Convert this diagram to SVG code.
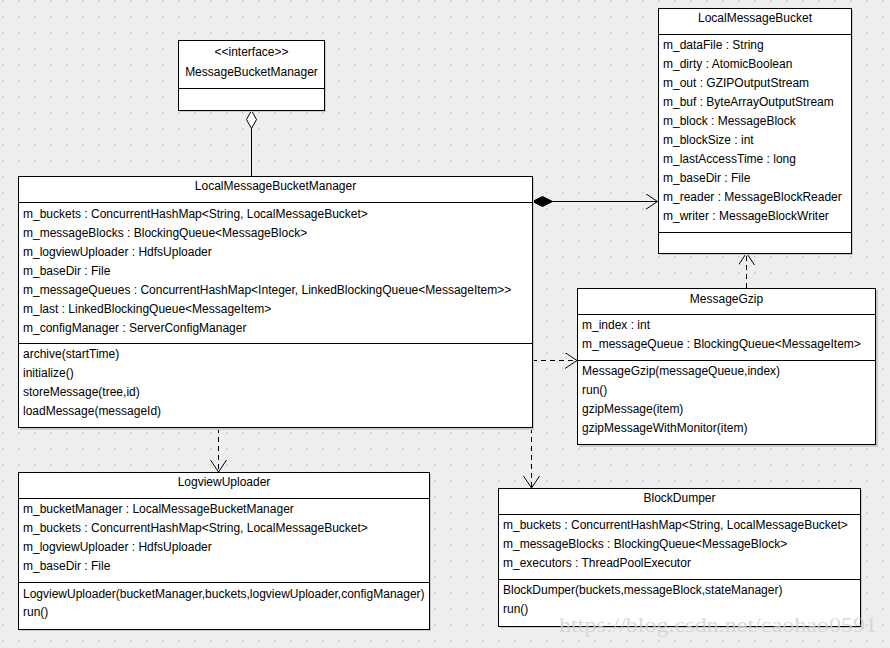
<svg xmlns="http://www.w3.org/2000/svg" width="890" height="648" viewBox="0 0 890 648">
<defs>
<pattern id="grid" width="16" height="16" patternUnits="userSpaceOnUse">
<rect x="2" y="0" width="1.6" height="1.6" fill="#cdcdcd"/>
</pattern>
<marker id="open" markerWidth="14" markerHeight="18" refX="12" refY="8" orient="auto" markerUnits="userSpaceOnUse">
<path d="M0,0 L12,8 L0,16" fill="none" stroke="#000" stroke-width="1"/>
</marker>
</defs>
<style>
.box{fill:#fff;stroke:#000;stroke-width:1;shape-rendering:crispEdges}
.shadow{fill:#cacaca;shape-rendering:crispEdges}
.div{stroke:#000;stroke-width:1;shape-rendering:crispEdges}
text{font-family:"Liberation Sans",Arial,sans-serif;font-size:12px;fill:#000}
.t{text-anchor:middle}
.line{stroke:#000;stroke-width:1;fill:none;shape-rendering:crispEdges}
.dash{stroke:#000;stroke-width:1;fill:none;stroke-dasharray:5,4;shape-rendering:crispEdges}
.wm{font-family:"Liberation Serif","Times New Roman",serif;font-size:20px;fill:#d2d2d2;opacity:0.8}
</style>
<rect x="0" y="0" width="890" height="648" fill="#eeeeee"/>
<rect x="0" y="0" width="890" height="648" fill="url(#grid)"/>

<g id="connectors">
<line class="line" x1="251.5" y1="128" x2="251.5" y2="176"/>
<path d="M251.5,110.5 L256.5,119.5 L251.5,128.5 L246.5,119.5 Z" fill="#fff" stroke="#000" stroke-width="1"/>
<line class="line" x1="552" y1="201.5" x2="657.5" y2="201.5" marker-end="url(#open)"/>
<path d="M532.5,201.5 L542.5,196.5 L552.5,201.5 L542.5,206.5 Z" fill="#000" stroke="#000" stroke-width="1"/>
<line class="dash" x1="532" y1="360.5" x2="577" y2="360.5" marker-end="url(#open)"/>
<line class="dash" x1="746.5" y1="288" x2="746.5" y2="253" marker-end="url(#open)"/>
<line class="dash" x1="218.5" y1="428" x2="218.5" y2="472" marker-end="url(#open)"/>
<line class="dash" x1="531.5" y1="428" x2="531.5" y2="488" marker-end="url(#open)"/>
</g>

<g id="MessageBucketManager">
<rect class="shadow" x="180" y="42" width="146" height="70"/>
<rect class="box" x="178.5" y="40.5" width="146" height="70"/>
<line class="div" x1="178.5" y1="88.5" x2="324.5" y2="88.5"/>
<text class="t" x="251.5" y="55.5">&lt;&lt;interface&gt;&gt;</text>
<text class="t" x="251.5" y="76">MessageBucketManager</text>
</g>

<g id="LocalMessageBucketManager">
<rect class="shadow" x="20" y="178" width="514" height="252"/>
<rect class="box" x="18.5" y="176.5" width="514" height="251"/>
<line class="div" x1="18.5" y1="202.5" x2="532.5" y2="202.5"/>
<line class="div" x1="18.5" y1="343.5" x2="532.5" y2="343.5"/>
<text class="t" x="275.5" y="190">LocalMessageBucketManager</text>
<text x="23" y="217.5">m_buckets : ConcurrentHashMap&lt;String, LocalMessageBucket&gt;</text>
<text x="23" y="236.5">m_messageBlocks : BlockingQueue&lt;MessageBlock&gt;</text>
<text x="23" y="255.5">m_logviewUploader : HdfsUploader</text>
<text x="23" y="274.5">m_baseDir : File</text>
<text x="23" y="293.5">m_messageQueues : ConcurrentHashMap&lt;Integer, LinkedBlockingQueue&lt;MessageItem&gt;&gt;</text>
<text x="23" y="312.5">m_last : LinkedBlockingQueue&lt;MessageItem&gt;</text>
<text x="23" y="331.5">m_configManager : ServerConfigManager</text>
<text x="23" y="357.5">archive(startTime)</text>
<text x="23" y="376.5">initialize()</text>
<text x="23" y="395.5">storeMessage(tree,id)</text>
<text x="23" y="414.5">loadMessage(messageId)</text>
</g>

<g id="LocalMessageBucket">
<rect class="shadow" x="660" y="10" width="193" height="245"/>
<rect class="box" x="658.5" y="8.5" width="193" height="245"/>
<line class="div" x1="658.5" y1="34.5" x2="851.5" y2="34.5"/>
<line class="div" x1="658.5" y1="232.5" x2="851.5" y2="232.5"/>
<text class="t" x="755" y="21.5">LocalMessageBucket</text>
<text x="663" y="48.5">m_dataFile : String</text>
<text x="663" y="67.5">m_dirty : AtomicBoolean</text>
<text x="663" y="86.5">m_out : GZIPOutputStream</text>
<text x="663" y="105.5">m_buf : ByteArrayOutputStream</text>
<text x="663" y="124.5">m_block : MessageBlock</text>
<text x="663" y="143.5">m_blockSize : int</text>
<text x="663" y="162.5">m_lastAccessTime : long</text>
<text x="663" y="181.5">m_baseDir : File</text>
<text x="663" y="200.5">m_reader : MessageBlockReader</text>
<text x="663" y="219.5">m_writer : MessageBlockWriter</text>
</g>

<g id="MessageGzip">
<rect class="shadow" x="579" y="290" width="299" height="157"/>
<rect class="box" x="577.5" y="288.5" width="298" height="156"/>
<line class="div" x1="577.5" y1="314.5" x2="875.5" y2="314.5"/>
<line class="div" x1="577.5" y1="360.5" x2="875.5" y2="360.5"/>
<text class="t" x="726.5" y="302.5">MessageGzip</text>
<text x="582" y="328.5">m_index : int</text>
<text x="582" y="347.5">m_messageQueue : BlockingQueue&lt;MessageItem&gt;</text>
<text x="582" y="375">MessageGzip(messageQueue,index)</text>
<text x="582" y="394">run()</text>
<text x="582" y="413">gzipMessage(item)</text>
<text x="582" y="432">gzipMessageWithMonitor(item)</text>
</g>

<g id="LogviewUploader">
<rect class="shadow" x="20" y="474" width="411" height="157"/>
<rect class="box" x="18.5" y="472.5" width="411" height="157"/>
<line class="div" x1="18.5" y1="498.5" x2="429.5" y2="498.5"/>
<line class="div" x1="18.5" y1="582.5" x2="429.5" y2="582.5"/>
<text class="t" x="224" y="486">LogviewUploader</text>
<text x="23" y="513">m_bucketManager : LocalMessageBucketManager</text>
<text x="23" y="532">m_buckets : ConcurrentHashMap&lt;String, LocalMessageBucket&gt;</text>
<text x="23" y="551">m_logviewUploader : HdfsUploader</text>
<text x="23" y="570">m_baseDir : File</text>
<text x="23" y="597.5">LogviewUploader(bucketManager,buckets,logviewUploader,configManager)</text>
<text x="23" y="616">run()</text>
</g>

<g id="BlockDumper">
<rect class="shadow" x="500" y="490" width="362" height="138"/>
<rect class="box" x="498.5" y="488.5" width="362" height="138"/>
<line class="div" x1="498.5" y1="514.5" x2="860.5" y2="514.5"/>
<line class="div" x1="498.5" y1="579.5" x2="860.5" y2="579.5"/>
<text class="t" x="679.5" y="502">BlockDumper</text>
<text x="503" y="529">m_buckets : ConcurrentHashMap&lt;String, LocalMessageBucket&gt;</text>
<text x="503" y="548">m_messageBlocks : BlockingQueue&lt;MessageBlock&gt;</text>
<text x="503" y="567">m_executors : ThreadPoolExecutor</text>
<text x="503" y="594">BlockDumper(buckets,messageBlock,stateManager)</text>
<text x="503" y="613">run()</text>
</g>

<text class="wm" x="559" y="632" textLength="318" lengthAdjust="spacingAndGlyphs">https://blog.csdn.net/caohao0591</text>
</svg>
